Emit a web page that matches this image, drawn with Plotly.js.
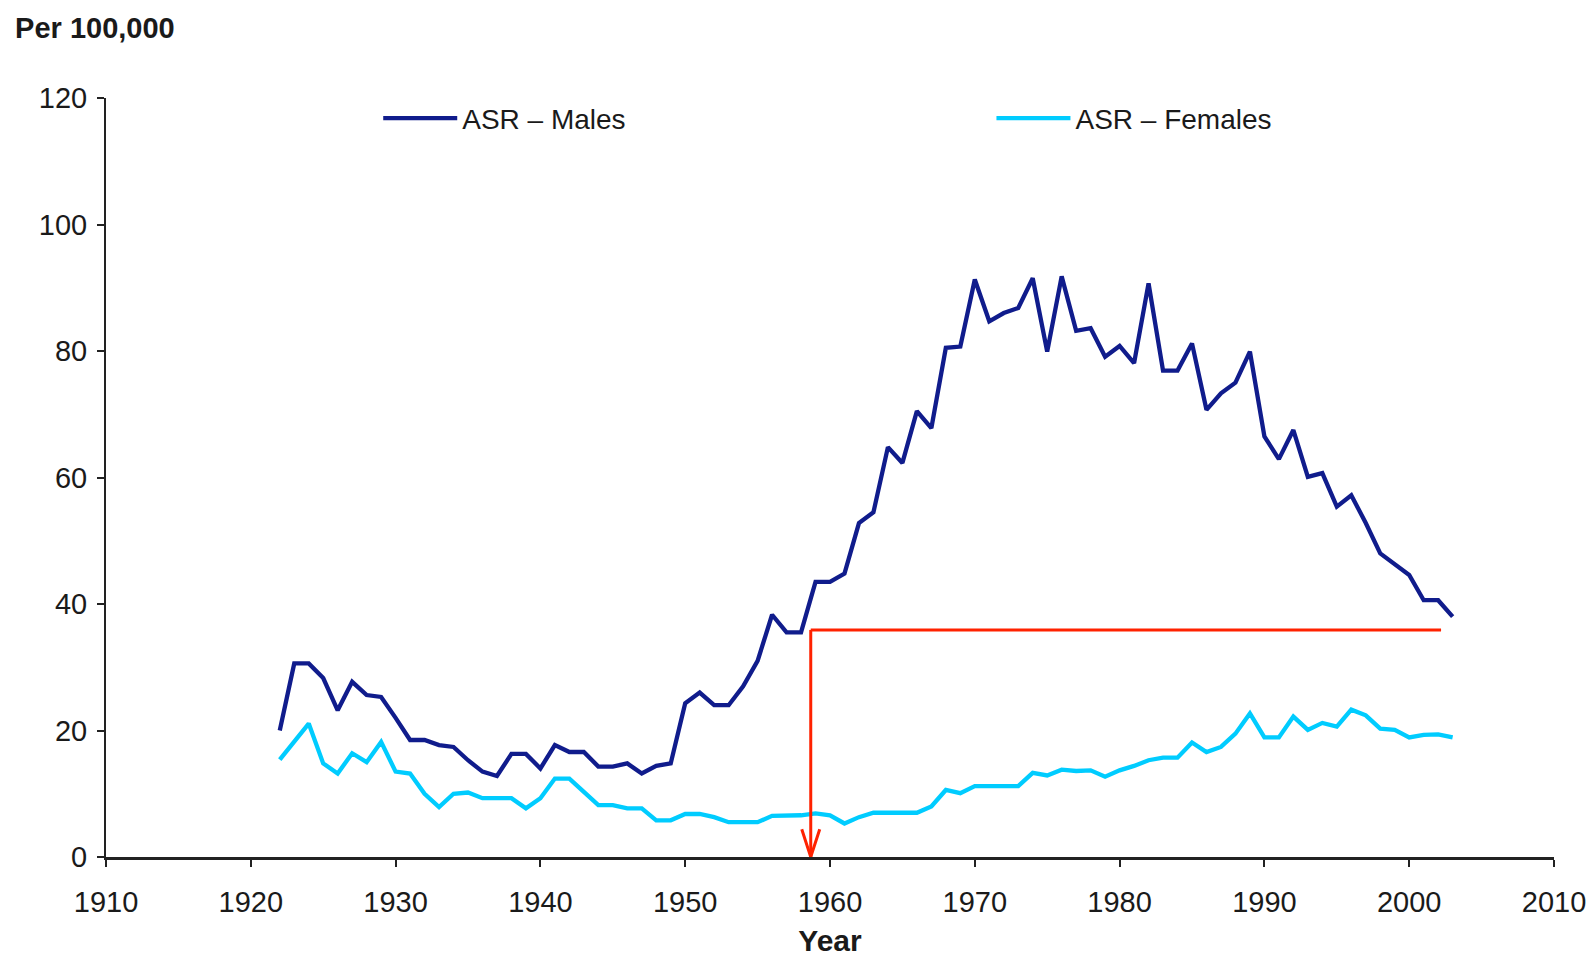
<!DOCTYPE html>
<html>
<head>
<meta charset="utf-8">
<script src="https://cdn.plot.ly/plotly-3.0.1.min.js"></script>
<style>
  html, body { margin: 0; padding: 0; background: #ffffff; }
  #chart { width: 1588px; height: 957px; }
</style>
</head>
<body>
<div id="chart"></div>
<script>
// ---- Data ----
const years = [1922,1923,1924,1925,1926,1927,1928,1929,1930,1931,1932,1933,1934,1935,1936,1937,1938,1939,1940,
  1941,1942,1943,1944,1945,1946,1947,1948,1949,1950,1951,1952,1953,1954,1955,1956,1957,1958,1959,1960,
  1961,1962,1963,1964,1965,1966,1967,1968,1969,1970,1971,1972,1973,1974,1975,1976,1977,1978,1979,1980,
  1981,1982,1983,1984,1985,1986,1987,1988,1989,1990,1991,1992,1993,1994,1995,1996,1997,1998,1999,2000,
  2001,2002,2003];

const asrMales = [20.0,30.6,30.6,28.3,23.2,27.7,25.6,25.3,22.0,18.5,18.5,17.7,17.4,15.3,13.5,12.8,16.3,16.3,14.0,
  17.7,16.6,16.6,14.3,14.3,14.8,13.2,14.4,14.8,24.3,26.0,24.0,24.0,27.0,31.0,38.3,35.5,35.5,43.5,43.5,
  44.8,52.8,54.5,64.8,62.3,70.5,67.8,80.5,80.7,91.3,84.7,86.0,86.8,91.5,79.9,91.8,83.2,83.6,79.1,80.8,
  78.1,90.7,76.9,76.9,81.2,70.7,73.3,75.0,79.9,66.5,62.9,67.5,60.1,60.7,55.4,57.2,52.8,48.0,46.4,44.6,
  40.6,40.6,38.0];

const asrFemales = [15.4,18.3,21.1,14.8,13.2,16.4,15.0,18.2,13.5,13.2,10.0,7.9,10.0,10.2,9.3,9.3,9.3,7.7,9.3,
  12.4,12.4,10.3,8.2,8.2,7.7,7.7,5.8,5.8,6.8,6.8,6.3,5.5,5.5,5.5,6.5,6.5,6.6,6.9,6.6,
  5.3,6.3,7.0,7.0,7.0,7.0,8.0,10.6,10.1,11.2,11.2,11.2,11.2,13.3,12.9,13.8,13.6,13.7,12.7,13.7,
  14.4,15.3,15.7,15.7,18.1,16.6,17.4,19.5,22.7,18.9,18.9,22.2,20.1,21.2,20.6,23.3,22.4,20.3,20.1,18.9,
  19.3,19.4,18.9];

const seriesNames = ["ASR \u2013 Males", "ASR \u2013 Females"];
const xTickVals = [1910,1920,1930,1940,1950,1960,1970,1980,1990,2000,2010];
const yTickVals = [0,20,40,60,80,100,120];

// Red annotation (year / rate where the marker lines sit)
const markYear = 1958.67;
const markEndYear = 2002.2;
const markLevel = 35.9;

// ---- Styling ----
const FONT = '"Liberation Sans", Arial, Helvetica, sans-serif';
const RED = '#ff2200';

const traces = [
  { x: years, y: asrMales, name: seriesNames[0], type: 'scatter', mode: 'lines',
    line: { color: '#101c8c', width: 4.3 }, legend: 'legend' },
  { x: years, y: asrFemales, name: seriesNames[1], type: 'scatter', mode: 'lines',
    line: { color: '#00ccff', width: 4.3 }, legend: 'legend2' }
];

const legendCommon = {
  orientation: 'h', xanchor: 'left', yanchor: 'middle',
  font: { family: FONT, size: 28, color: '#1a1a1a' },
  bgcolor: 'rgba(0,0,0,0)', borderwidth: 0, itemwidth: 74,
  itemclick: false, itemdoubleclick: false
};

const layout = {
  width: 1588, height: 957,
  paper_bgcolor: '#ffffff', plot_bgcolor: '#ffffff',
  margin: { l: 106, r: 34, t: 98, b: 100, pad: 0 },
  font: { family: FONT, color: '#1a1a1a' },
  title: { text: '<b>Per 100,000</b>', xref: 'container', yref: 'container',
           x: 0.0095, xanchor: 'left', y: 0.971, yanchor: 'middle',
           font: { family: FONT, size: 29, color: '#1a1a1a' } },
  showlegend: true,
  legend: Object.assign({}, legendCommon, { x: 0.188, y: 0.973 }),
  legend2: Object.assign({}, legendCommon, { x: 0.6115, y: 0.973 }),
  xaxis: {
    range: [1910, 2010], tickmode: 'array', tickvals: xTickVals,
    showgrid: false, zeroline: false,
    showline: true, linecolor: '#222222', linewidth: 3,
    ticks: 'outside', ticklen: 7, tickwidth: 2, tickcolor: '#222222',
    ticklabelstandoff: 10,
    tickfont: { family: FONT, size: 29, color: '#1a1a1a' },
    title: { text: '<b>Year</b>', standoff: 14, font: { family: FONT, size: 30, color: '#1a1a1a' } },
    fixedrange: true
  },
  yaxis: {
    range: [0, 120], tickmode: 'array', tickvals: yTickVals,
    showgrid: false, zeroline: false,
    showline: true, linecolor: '#222222', linewidth: 2,
    ticks: 'outside', ticklen: 7, tickwidth: 2, tickcolor: '#222222',
    ticklabelstandoff: 4,
    tickfont: { family: FONT, size: 29, color: '#1a1a1a' },
    fixedrange: true
  },
  shapes: [
    { type: 'line', xref: 'x', yref: 'y', x0: markYear, x1: markEndYear, y0: markLevel, y1: markLevel,
      line: { color: RED, width: 3 } },
    { type: 'line', xref: 'x', yref: 'y', x0: markYear, x1: markYear, y0: markLevel, y1: 0,
      line: { color: RED, width: 3 } },
    { type: 'path', xref: 'x', yref: 'y',
      path: 'M' + (markYear - 0.62) + ',4.4 L' + markYear + ',0 L' + (markYear + 0.62) + ',4.4',
      line: { color: RED, width: 3 } }
  ]
};

Plotly.newPlot('chart', traces, layout, { displayModeBar: false, staticPlot: true });
</script>
</body>
</html>
